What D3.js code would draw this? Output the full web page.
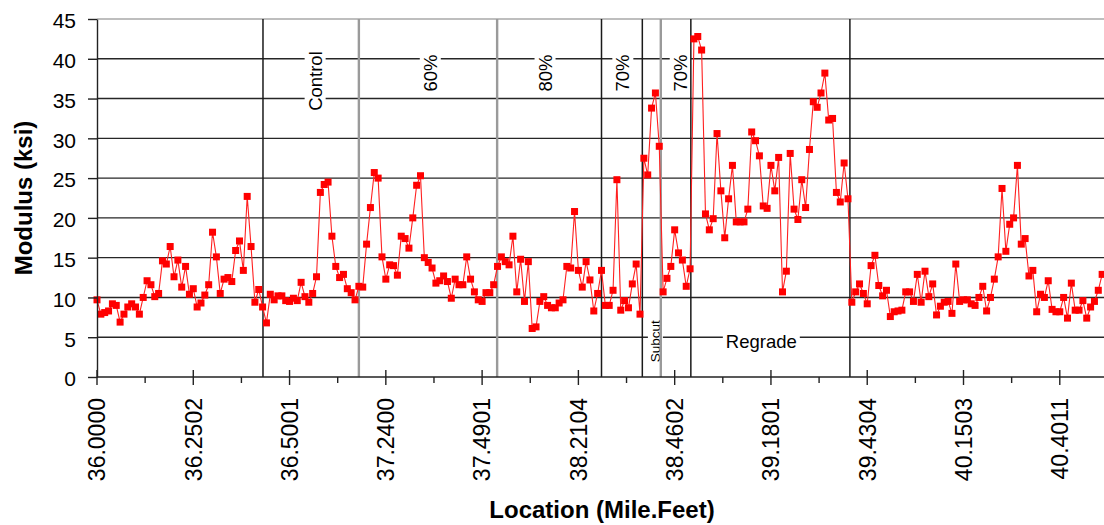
<!DOCTYPE html>
<html>
<head>
<meta charset="utf-8">
<script src="https://cdn.jsdelivr.net/npm/d3@7"></script>
<style>
    body { margin: 0; background: #fff; }
    text { font-family: 'Liberation Sans', Arial, sans-serif; fill: #000; }
</style>
</head>
<body>
<div id="chart"></div>
<script>
// modulus readings, one per station (ksi)
var modulus = [
    9.7, 7.9, 8.1, 8.3, 9.2, 9.0, 6.9, 7.9, 8.8, 9.2, 8.8, 7.9, 10.0, 12.1, 11.6, 10.1, 10.5, 14.6, 14.2, 16.4,
    12.6, 14.7, 11.3, 13.9, 10.4, 11.1, 8.8, 9.3, 10.3, 11.6, 18.2, 15.1, 10.5, 12.3, 12.5, 12.0, 15.9, 17.1, 13.4, 22.7,
    16.4, 9.4,
    11.0, 8.8, 6.8, 10.4, 9.7, 10.2, 10.2, 9.6, 9.5, 9.9, 9.6, 11.9, 10.1, 9.4, 10.5, 12.6, 23.2, 24.2, 24.5, 17.7,
    13.9, 12.5, 12.9, 11.1, 10.6, 9.7, 11.4, 11.3, 16.7, 21.3, 25.7, 25.0, 15.1, 12.3, 14.1, 14.0, 12.8, 17.7, 17.4, 16.2,
    20.0, 24.1, 25.3, 15.0, 14.4, 13.7, 11.8,
    12.1, 12.7, 12.0, 9.9, 12.3, 11.6, 11.6, 15.1, 12.3, 10.7, 9.7, 9.5, 10.6, 10.6, 11.6, 13.9, 15.1, 14.5, 14.1, 17.7,
    10.7, 14.8, 9.5, 14.5, 6.1, 6.3, 9.5, 10.1, 9.0, 8.7, 8.7, 9.3, 9.7, 13.9, 13.7, 20.8, 13.4, 11.3, 14.5, 12.2,
    8.3, 10.5, 13.4, 9.0,
    9.0, 10.9, 24.8, 8.4, 9.6, 8.7, 11.7, 14.2, 7.9, 27.5, 25.4, 33.8, 35.7, 29.0, 10.7, 12.4, 13.9, 18.5, 15.6, 14.7,
    11.4, 13.6, 42.5, 42.8, 41.1, 20.5, 18.5, 19.9, 30.6, 23.4, 17.5, 22.4, 26.6, 19.5, 19.5, 19.5, 21.1, 30.8, 29.7, 27.8,
    21.5, 21.2, 26.6, 23.4, 27.6,
    10.7, 13.3, 28.1, 21.1, 19.8, 24.8, 21.3, 28.6, 34.6, 33.9, 35.7, 38.2, 32.3, 32.5, 23.2, 22.0, 26.9, 22.4, 9.4, 10.7,
    11.7, 10.5, 9.2, 14.0, 15.3, 11.5, 10.2, 10.9, 7.6, 8.2, 8.3, 8.4, 10.7, 10.7, 9.5, 12.9, 9.4, 13.3, 10.1, 11.7,
    7.8, 8.9, 9.4,
    9.5, 8.0, 14.2, 9.5, 9.7, 9.7, 9.2, 9.0, 10.0, 11.4, 8.3, 10.0, 12.3, 15.1, 23.7, 15.8, 19.2, 20.0, 26.6, 16.7,
    17.4, 12.7, 13.4, 8.2, 10.4, 10.0, 12.1, 8.5, 8.2, 8.2, 10.0, 7.4, 11.8, 8.4, 8.4, 9.6, 7.4, 8.8, 9.5, 10.9,
    12.9
]

// location labels, one every 25 stations
var locationLabels = ['36.0000', '36.2502', '36.5001', '37.2400', '37.4901', '38.2104',
    '38.4602', '39.1801', '39.4304', '40.1503', '40.4011']
var labelEvery = 25

var yTicks = [0, 5, 10, 15, 20, 25, 30, 35, 40, 45]

// section boundaries (station index) and section names
var sectionBounds = [43.1, 68.0, 103.9, 131.0, 141.6, 146.4, 154.2, 195.5]
var sectionNames = ['Control', '60%', '80%', '70%', 'Subcut', '70%', 'Regrade']
var sectionNameAt = [56.6, 86.5, 116.3, 136.5, 144.9, 151.4, 172.5]

var w = 1104,
    h = 525,
    greyBounds = [1, 2, 5]

var x = d3.scaleLinear().domain([0, 262]).range([97, 1106]),
    y = d3.scaleLinear().domain([0, 45]).range([377, 19])

var svg = d3.select('#chart').append('svg')
    .attr('width', w)
    .attr('height', h)

// горизонтальная сетка
svg.append('g').selectAll('line')
    .data(yTicks.filter(function (d) { return d > 0 && d < 45 }))
    .enter().append('line')
    .attr('x1', x(0)).attr('x2', w)
    .attr('y1', function (d) { return y(d) })
    .attr('y2', function (d) { return y(d) })
    .attr('stroke', '#262626')
    .attr('stroke-width', 1.4)

svg.append('line')
    .attr('x1', x(0)).attr('x2', w)
    .attr('y1', y(45)).attr('y2', y(45))
    .attr('stroke', '#a8a8a8')
    .attr('stroke-width', 1.5)

// подписи участков на белом фоне
var names = svg.append('g').selectAll('g')
    .data(sectionNames)
    .enter().append('g')
    .attr('transform', function (d, i) {
        if (d === 'Regrade') return 'translate(' + x(sectionNameAt[i]) + ',' + y(4.5) + ')'
        if (d === 'Subcut') return 'translate(' + x(sectionNameAt[i]) + ',' + y(4.5) + ') rotate(-90)'
        if (d === 'Control') return 'translate(' + x(sectionNameAt[i]) + ',' + y(37.2) + ') rotate(-90)'
        return 'translate(' + x(sectionNameAt[i]) + ',' + y(38.2) + ') rotate(-90)'
    })

names.append('text')
    .attr('text-anchor', 'middle')
    .attr('dy', '0.36em')
    .style('font-size', function (d) { return d === 'Subcut' ? '13.5px' : '18.5px' })
    .text(function (d) { return d })

names.each(function () {
    var g = d3.select(this),
        b = g.select('text').node().getBBox()
    g.insert('rect', 'text')
        .attr('x', b.x - 3).attr('y', b.y)
        .attr('width', b.width + 6).attr('height', b.height)
        .attr('fill', '#fff')
})

// границы участков
svg.append('g').selectAll('line')
    .data(sectionBounds)
    .enter().append('line')
    .attr('x1', function (d) { return x(d) })
    .attr('x2', function (d) { return x(d) })
    .attr('y1', y(45)).attr('y2', y(0))
    .attr('stroke', function (d, i) { return greyBounds.indexOf(i) >= 0 ? '#9a9a9a' : '#1a1a1a' })
    .attr('stroke-width', function (d, i) { return greyBounds.indexOf(i) >= 0 ? 2.4 : 1.5 })

// линия и маркеры
var line = d3.line()
    .x(function (d, i) { return x(i) })
    .y(function (d) { return y(d) })

svg.append('path')
    .datum(modulus)
    .attr('d', line)
    .attr('fill', 'none')
    .attr('stroke', '#ff2020')
    .attr('stroke-width', 1.1)

svg.append('g').selectAll('rect')
    .data(modulus)
    .enter().append('rect')
    .attr('x', function (d, i) { return x(i) - 3.5 })
    .attr('y', function (d) { return y(d) - 3.5 })
    .attr('width', 7).attr('height', 7)
    .attr('fill', '#ff0000')

// ось Y
var yAxis = svg.append('g')
    .attr('transform', 'translate(' + x(0) + ',0)')
    .call(d3.axisLeft(y).tickValues(yTicks).tickSize(9).tickSizeOuter(0).tickPadding(12))
yAxis.select('.domain').attr('stroke', '#222').attr('stroke-width', 1.4)
yAxis.selectAll('.tick line').attr('stroke', '#222').attr('stroke-width', 1.4)
yAxis.selectAll('.tick text')
    .attr('dy', '0.42em')
    .style('font-size', '21px')
    .style('font-family', "'Liberation Sans', Arial, sans-serif")
    .attr('fill', '#000')

// ось X
var xTicks = d3.range(0, 262, labelEvery / 2)
var xAxis = svg.append('g')
svg.append('line')
    .attr('x1', x(0)).attr('x2', w)
    .attr('y1', y(0)).attr('y2', y(0))
    .attr('stroke', '#222').attr('stroke-width', 1.4)
xAxis.selectAll('line')
    .data(xTicks)
    .enter().append('line')
    .attr('x1', function (d) { return x(d) })
    .attr('x2', function (d) { return x(d) })
    .attr('y1', function (d) { return d % labelEvery === 0 ? y(0) - 7 : y(0) })
    .attr('y2', function (d) { return d % labelEvery === 0 ? y(0) + 8 : y(0) + 6 })
    .attr('stroke', '#222').attr('stroke-width', 1.4)

xAxis.selectAll('text')
    .data(locationLabels)
    .enter().append('text')
    .attr('transform', function (d, i) {
        return 'translate(' + x(i * labelEvery) + ',' + (y(0) + 21) + ') rotate(-90)'
    })
    .attr('text-anchor', 'end')
    .attr('dy', '0.36em')
    .style('font-size', '23px')
    .text(function (d) { return d })

// заголовки осей
svg.append('text')
    .attr('x', 602).attr('y', 518)
    .attr('text-anchor', 'middle')
    .style('font-size', '24px')
    .style('font-weight', 'bold')
    .text('Location (Mile.Feet)')

svg.append('text')
    .attr('transform', 'translate(32,' + ((y(0) + y(45)) / 2) + ') rotate(-90)')
    .attr('text-anchor', 'middle')
    .style('font-size', '24px')
    .style('font-weight', 'bold')
    .text('Modulus (ksi)')
</script>
</body>
</html>
